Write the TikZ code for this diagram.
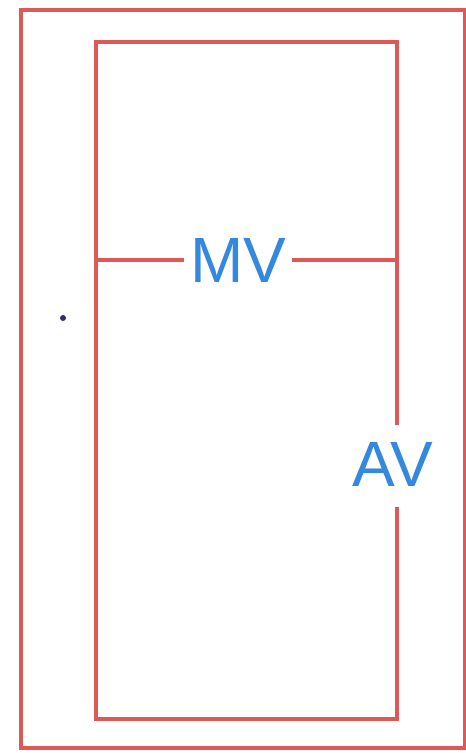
\documentclass[tikz,border=0pt]{standalone}
\usepackage{fontspec}
\setmainfont{Liberation Sans}
\definecolor{boxred}{RGB}{222,88,88}
\definecolor{labelblue}{RGB}{52,136,222}
\definecolor{dotpurple}{RGB}{60,40,110}
\begin{document}
\begin{tikzpicture}[x=1pt,y=-1pt,
  frame/.style={draw=boxred,line width=3.2pt},
  lbl/.style={text=labelblue,font=\fontsize{64}{64}\selectfont,inner sep=6pt}]
\useasboundingbox[fill=white] (0,0) rectangle (466,753);
% outer frame
\draw[frame] (21,10) rectangle (465,748);
% inner frame pieces
\coordinate (tl) at (96,42);
\coordinate (tr) at (397,42);
\coordinate (bl) at (96,719);
\coordinate (br) at (397,719);
\coordinate (ml) at (96,260);
\coordinate (mr) at (397,260);
\coordinate (avtop) at (397,425);
\coordinate (avbot) at (397,507);
\node[lbl] (mv) at (238,260) {MV};
\node[lbl] (av) at (393,464) {AV};
\draw[frame] (avtop) -- (tr) -- (tl) -- (bl) -- (br) -- (avbot);
\draw[frame] (ml) -- (mv.west);
\draw[frame] (mv.east) -- (mr);
\node[circle,fill=dotpurple,inner sep=0pt,minimum size=6pt] (dot) at (63,318) {};
\end{tikzpicture}
\end{document}
